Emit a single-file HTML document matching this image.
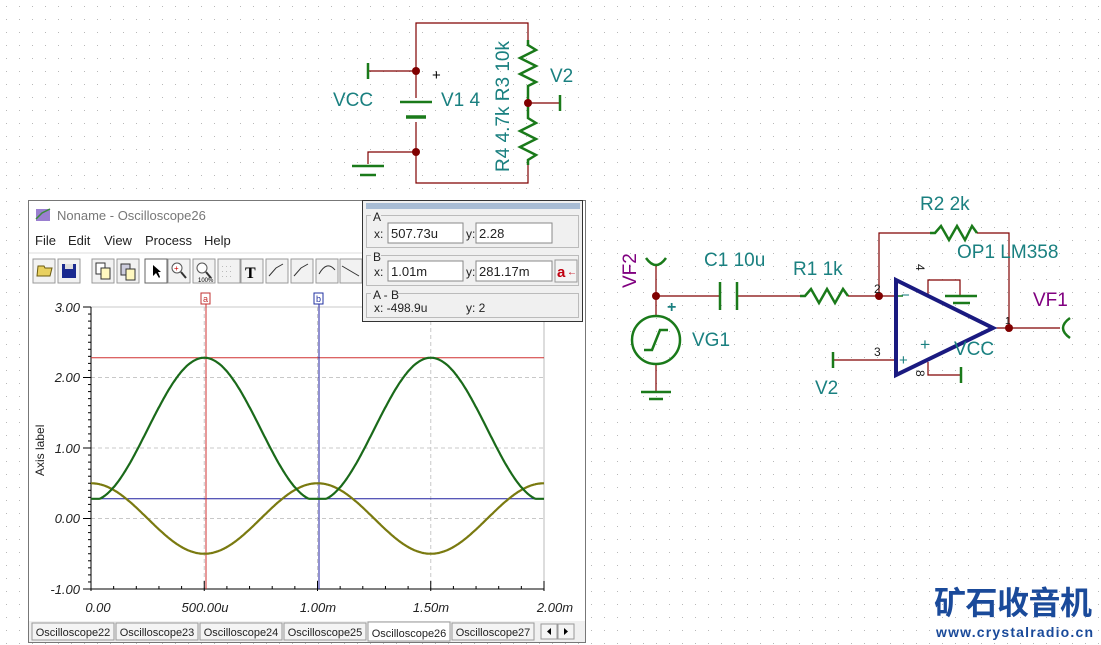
<!DOCTYPE html>
<html><head><meta charset="utf-8"><style>
html,body{margin:0;padding:0;background:#fff;}
svg{display:block;font-family:"Liberation Sans",Arial,sans-serif;}
</style></head><body>
<svg id="s" width="1101" height="645" viewBox="0 0 1101 645" xmlns="http://www.w3.org/2000/svg">
<defs>
<pattern id="dots" x="0" y="0" width="13" height="13" patternUnits="userSpaceOnUse">
<rect x="6" y="6" width="1" height="1" fill="#b8b8b8"/>
</pattern>
</defs>
<rect width="1101" height="645" fill="#fff"/>
<rect width="1101" height="645" fill="url(#dots)"/>

<!-- ===== Top circuit ===== -->
<g fill="none" stroke="#800000" stroke-width="1.2">
<polyline points="416,98 416,23 528,23 528,40"/>
<polyline points="528,165 528,183 416,183 416,122"/>
<line x1="368" y1="71" x2="416" y2="71"/>
<polyline points="416,152 368,152 368,164"/>
<line x1="528" y1="103" x2="560" y2="103"/>
</g>
<g fill="none" stroke="#1a7a1a" stroke-width="2.5">
<line x1="368" y1="63" x2="368" y2="79"/>
<line x1="400" y1="102" x2="432" y2="102"/>
<line x1="406" y1="117" x2="426" y2="117" stroke-width="3.5"/>
<line x1="352" y1="166" x2="384" y2="166"/>
<line x1="360" y1="175" x2="376" y2="175"/>
<line x1="560" y1="95" x2="560" y2="111"/>
<polyline points="528,40 528,45 536,50 520,58 536,66 520,74 536,82 528,86 528,103 528,118 536,123 520,131 536,139 520,147 536,155 528,160 528,165"/>
</g>
<g fill="#800000"><circle cx="416" cy="71" r="4"/><circle cx="416" cy="152" r="4"/><circle cx="528" cy="103" r="4"/></g>
<text x="432" y="80" font-size="15" fill="#000">+</text>
<g fill="#1a8080" font-size="19">
<text x="333" y="106">VCC</text>
<text x="441" y="106">V1 4</text>
<text x="550" y="82">V2</text>
<text transform="translate(509,172) rotate(-90)">R4 4.7k R3 10k</text>
</g>

<!-- ===== Right circuit ===== -->
<g fill="none" stroke="#800000" stroke-width="1.2">
<line x1="656" y1="264" x2="656" y2="316"/>
<line x1="656" y1="364" x2="656" y2="392"/>
<line x1="656" y1="296" x2="720" y2="296"/>
<line x1="737" y1="296" x2="800" y2="296"/>
<line x1="848" y1="296" x2="896" y2="296"/>
<polyline points="879,296 879,233 930,233"/>
<polyline points="977,233 1009,233 1009,328"/>
<line x1="993" y1="328" x2="1060" y2="328"/>
<line x1="833" y1="360" x2="896" y2="360"/>
<polyline points="928,296 928,280 960,280 960,296"/>
<polyline points="928,362 928,375 961,375"/>
</g>
<g fill="none" stroke="#1a7a1a" stroke-width="2.5">
<path d="M646,258 Q656,272 666,258"/>
<path d="M1070,318 Q1056,328 1070,338"/>
<line x1="720" y1="282" x2="720" y2="310"/>
<line x1="737" y1="282" x2="737" y2="310"/>
<polyline points="800,296 805,296 811,289 819,303 827,289 835,303 843,289 848,296"/>
<polyline points="930,233 935,233 941,226 949,240 957,226 965,240 972,226 977,233"/>
<circle cx="656" cy="340" r="24"/>
<polyline points="644,350 652,350 660,330 668,330"/>
<line x1="641" y1="392" x2="671" y2="392"/>
<line x1="649" y1="399" x2="663" y2="399"/>
<line x1="833" y1="352" x2="833" y2="368"/>
<line x1="945" y1="296" x2="977" y2="296"/>
<line x1="953" y1="303" x2="970" y2="303"/>
<line x1="961" y1="367" x2="961" y2="383"/>
<line x1="896" y1="296" x2="903" y2="296" stroke-width="1.5"/>
</g>
<polygon points="896,280 993,328 896,375" fill="none" stroke="#1a1a80" stroke-width="4"/>
<g fill="#800000"><circle cx="656" cy="296" r="4"/><circle cx="879" cy="296" r="4"/><circle cx="1009" cy="328" r="4"/></g>
<g fill="#1a8080" font-size="19">
<text x="920" y="210">R2 2k</text>
<text x="957" y="258">OP1 LM358</text>
<text x="793" y="275">R1 1k</text>
<text x="704" y="266">C1 10u</text>
<text x="692" y="346">VG1</text>
<text x="954" y="355">VCC</text>
<text x="815" y="394">V2</text>
<text x="667" y="312" font-size="16" font-weight="bold">+</text>
<text x="920" y="350" font-size="17">+</text>
<text x="899" y="365" font-size="15">+</text>
<text x="901" y="300" font-size="15">−</text>
</g>
<g fill="#1a1a1a" font-size="12">
<text x="874" y="293">2</text>
<text x="874" y="356">3</text>
<text x="1005" y="324" font-size="10">1</text>
<text transform="translate(916,264) rotate(90)">4</text>
<text transform="translate(916,370) rotate(90)">8</text>
</g>
<g fill="#800080" font-size="19">
<text transform="translate(636,288) rotate(-90)">VF2</text>
<text x="1033" y="306">VF1</text>
</g>

<!-- ===== Oscilloscope window ===== -->
<rect x="28.5" y="200.5" width="557" height="442" fill="#fff" stroke="#777"/>
<rect x="29" y="201" width="556" height="86" fill="#fff"/>
<g>
<rect x="36" y="209" width="14" height="12" fill="#9a7fd0"/>
<polyline points="36,219 42,213 50,209" fill="none" stroke="#3a8a3a" stroke-width="1.5"/>
</g>
<text x="57" y="220" font-size="13" fill="#777">Noname - Oscilloscope26</text>
<g font-size="13" fill="#222">
<text x="35" y="245">File</text><text x="68" y="245">Edit</text><text x="104" y="245">View</text><text x="145" y="245">Process</text><text x="204" y="245">Help</text>
</g>
<line x1="29" y1="253" x2="362" y2="253" stroke="#ddd"/>
<!-- toolbar -->
<g stroke="#999" fill="#f2f2f2">
<rect x="33" y="259" width="22" height="24"/><rect x="58" y="259" width="22" height="24"/>
<rect x="92" y="259" width="22" height="24"/><rect x="117" y="259" width="22" height="24"/>
<rect x="145" y="259" width="22" height="24" fill="#fff" stroke="#666"/><rect x="168" y="259" width="22" height="24"/>
<rect x="193" y="259" width="22" height="24"/><rect x="218" y="259" width="22" height="24"/>
<rect x="241" y="259" width="22" height="24"/><rect x="266" y="259" width="22" height="24"/>
<rect x="291" y="259" width="22" height="24"/><rect x="316" y="259" width="22" height="24"/>
<rect x="340" y="259" width="22" height="24"/>
</g>
<path d="M37,276 L38,266 L44,266 L45,268 L52,268 L50,276 Z" fill="#e8d060" stroke="#6a5a10"/>
<rect x="62" y="264" width="14" height="14" fill="#1a2a90"/><rect x="65" y="264" width="8" height="5" fill="#ddd"/>
<rect x="96" y="263" width="9" height="11" fill="#fff" stroke="#333"/><rect x="101" y="268" width="9" height="11" fill="#fff8c0" stroke="#333"/>
<rect x="121" y="264" width="9" height="11" fill="#ccd" stroke="#333"/><rect x="126" y="269" width="9" height="11" fill="#fff8c0" stroke="#333"/>
<path d="M153,265 L153,276 L156,273 L159,278 L160,277 L158,272 L161,272 Z" fill="#000"/>
<circle cx="177" cy="268" r="5" fill="#fff" stroke="#555"/><line x1="181" y1="272" x2="186" y2="278" stroke="#333" stroke-width="2"/><text x="174" y="271" font-size="8" fill="#c00">+</text>
<circle cx="202" cy="268" r="5" fill="#fff" stroke="#555"/><line x1="206" y1="272" x2="211" y2="278" stroke="#333" stroke-width="2"/><text x="198" y="282" font-size="6">100%</text>
<g fill="#bbb"><rect x="222" y="266" width="1" height="1"/><rect x="226" y="266" width="1" height="1"/><rect x="230" y="266" width="1" height="1"/><rect x="222" y="271" width="1" height="1"/><rect x="226" y="271" width="1" height="1"/><rect x="230" y="271" width="1" height="1"/><rect x="222" y="276" width="1" height="1"/><rect x="226" y="276" width="1" height="1"/><rect x="230" y="276" width="1" height="1"/></g>
<text x="245" y="278" font-size="16" font-weight="bold" font-family="Liberation Serif">T</text>
<g fill="none" stroke="#333"><polyline points="269,276 276,268 283,264"/><polyline points="294,276 301,268 308,264"/><path d="M319,274 Q327,260 335,270"/><line x1="342" y1="266" x2="359" y2="276"/></g>
<!-- plot -->
<rect x="29" y="288" width="556" height="332" fill="#fff"/>
<g id="plot"></g>
<g font-size="13" font-style="italic" fill="#222" text-anchor="end">
<text x="80" y="312">3.00</text><text x="80" y="382">2.00</text><text x="80" y="453">1.00</text><text x="80" y="523">0.00</text><text x="80" y="594">-1.00</text>
</g>
<g font-size="13" font-style="italic" fill="#222" text-anchor="middle">
<text x="98" y="612">0.00</text><text x="205" y="612">500.00u</text><text x="318" y="612">1.00m</text><text x="431" y="612">1.50m</text><text x="555" y="612">2.00m</text>
</g>
<text transform="translate(44,476) rotate(-90)" font-size="12" fill="#222">Axis label</text>
<!-- cursor tags -->
<rect x="201" y="293" width="9" height="11" fill="#fff" stroke="#c03030"/><text x="205.5" y="302" font-size="9" fill="#c03030" text-anchor="middle">a</text>
<rect x="314" y="293" width="9" height="11" fill="#fff" stroke="#2030a0"/><text x="318.5" y="302" font-size="9" fill="#2030a0" text-anchor="middle">b</text>
<!-- tabs -->
<rect x="29" y="621" width="556" height="21" fill="#f0f0f0"/>
<g font-size="11" fill="#222" stroke="#999">
<rect x="32" y="623" width="82" height="17" fill="#f4f4f4"/><rect x="116" y="623" width="82" height="17" fill="#f4f4f4"/>
<rect x="200" y="623" width="82" height="17" fill="#f4f4f4"/><rect x="284" y="623" width="82" height="17" fill="#f4f4f4"/>
<rect x="368" y="622" width="82" height="19" fill="#fff"/><rect x="452" y="623" width="82" height="17" fill="#f4f4f4"/>
<rect x="541" y="624" width="16" height="15" fill="#f4f4f4"/><rect x="558" y="624" width="16" height="15" fill="#f4f4f4"/>
</g>
<g font-size="11" fill="#222" text-anchor="middle">
<text x="73" y="636">Oscilloscope22</text><text x="157" y="636">Oscilloscope23</text><text x="241" y="636">Oscilloscope24</text><text x="325" y="636">Oscilloscope25</text><text x="409" y="637">Oscilloscope26</text><text x="493" y="636">Oscilloscope27</text>
</g>
<path d="M551,628 L547,631.5 L551,635 Z M564,628 L568,631.5 L564,635 Z" fill="#000"/>

<!-- cursor popup -->
<rect x="362.5" y="200.5" width="220" height="121" fill="#f0f0f0" stroke="#333"/>
<rect x="366" y="203" width="214" height="6" fill="#a8bcd4"/>
<g fill="none" stroke="#bbb">
<rect x="366.5" y="215.5" width="212" height="32"/>
<rect x="366.5" y="255.5" width="212" height="30"/>
<rect x="366.5" y="293.5" width="212" height="24"/>
</g>
<g font-size="12" fill="#222">
<rect x="371" y="212" width="10" height="8" fill="#f0f0f0"/><text x="373" y="221">A</text>
<rect x="371" y="252" width="10" height="8" fill="#f0f0f0"/><text x="373" y="261">B</text>
<rect x="371" y="290" width="26" height="8" fill="#f0f0f0"/><text x="373" y="299">A - B</text>
<text x="374" y="238">x:</text><text x="466" y="238">y:</text>
<text x="374" y="276">x:</text><text x="466" y="276">y:</text>
<text x="374" y="312">x:  -498.9u</text><text x="466" y="312">y: 2</text>
</g>
<g fill="#fff" stroke="#888">
<rect x="388" y="223" width="75" height="20"/><rect x="476" y="223" width="76" height="20"/>
<rect x="388" y="261" width="75" height="20"/><rect x="476" y="261" width="76" height="20"/>
</g>
<g font-size="13" fill="#222">
<text x="391" y="238">507.73u</text><text x="479" y="238">2.28</text>
<text x="391" y="276">1.01m</text><text x="479" y="276">281.17m</text>
</g>
<rect x="555" y="260" width="22" height="22" fill="#f4f4f4" stroke="#999"/>
<text x="557" y="277" font-size="15" font-weight="bold" fill="#c00010">a</text><text x="567" y="275" font-size="10" fill="#c00010">←</text>

<!-- logo -->
<text x="934" y="614" font-size="32" font-weight="bold" fill="#1a4a9a" font-family="'Noto Sans CJK SC','WenQuanYi Zen Hei',sans-serif" textLength="158">矿石收音机</text>
<text x="936" y="637" font-size="14" font-weight="bold" fill="#1a4a9a" textLength="157">www.crystalradio.cn</text>
</svg>
<script>
(function(){
var g=document.getElementById('plot'),ns='http://www.w3.org/2000/svg';
function el(t,a){var e=document.createElementNS(ns,t);for(var k in a)e.setAttribute(k,a[k]);g.appendChild(e);return e;}
var x0=91,x1=544,Y=function(v){return 518.5-70.5*v;},X=function(t){return x0+(x1-x0)*t/2;};
[1,2,0].forEach(function(v){el('line',{x1:x0,y1:Y(v),x2:x1,y2:Y(v),stroke:'#c8c8c8','stroke-dasharray':'4,3'});});
[0.5,1,1.5].forEach(function(t){el('line',{x1:X(t),y1:Y(3),x2:X(t),y2:Y(-1),stroke:'#c8c8c8','stroke-dasharray':'4,3'});});
el('line',{x1:x0,y1:Y(3),x2:x1,y2:Y(3),stroke:'#c8c8c8'});
el('line',{x1:x1,y1:Y(3),x2:x1,y2:Y(-1),stroke:'#bbb'});
el('line',{x1:x0,y1:Y(3),x2:x0,y2:Y(-1),stroke:'#000'});
el('line',{x1:x0,y1:Y(-1),x2:x1,y2:Y(-1),stroke:'#000'});
for(var i=0;i<=40;i++){var y=Y(3)+i*(Y(-1)-Y(3))/40;el('line',{x1:x0-(i%10==0?8:3),y1:y,x2:x0,y2:y,stroke:'#000'});}
for(var i=0;i<=20;i++){var x=x0+i*(x1-x0)/20;el('line',{x1:x,y1:Y(-1)-(i%5==0?8:3),x2:x,y2:Y(-1)+(i%5==0?2:0),stroke:'#000'});}
el('line',{x1:x0,y1:Y(2.28),x2:x1,y2:Y(2.28),stroke:'#d03030'});
el('line',{x1:x0,y1:Y(0.28),x2:x1,y2:Y(0.28),stroke:'#2020a0'});
el('line',{x1:206,y1:304,x2:206,y2:Y(-1),stroke:'#d03030'});
el('line',{x1:319,y1:304,x2:319,y2:Y(-1),stroke:'#2020a0'});
var w=2*Math.PI,a='',b='';
for(var i=0;i<=450;i++){var t=2*i/450,x=X(t);
 var o=0.5*Math.cos(w*t);var gv=Math.max(0.28,1.265-1.015*Math.cos(w*t));
 a+=(i?'L':'M')+x.toFixed(1)+','+Y(o).toFixed(1);b+=(i?'L':'M')+x.toFixed(1)+','+Y(gv).toFixed(1);}
el('path',{d:a,fill:'none',stroke:'#7a7a10','stroke-width':2.2});
el('path',{d:b,fill:'none',stroke:'#1a6a1a','stroke-width':2.2});
})();
</script>
</body></html>
